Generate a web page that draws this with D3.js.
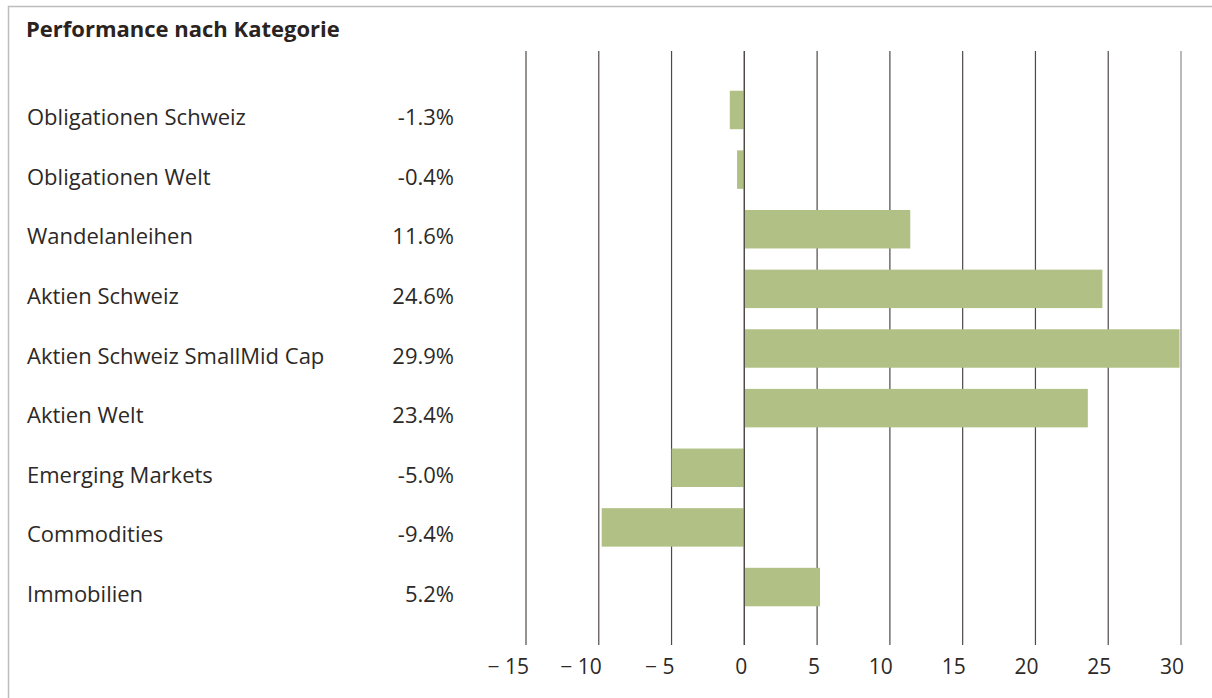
<!DOCTYPE html>
<meta charset="utf-8">
<script src="https://d3js.org/d3.v7.min.js"></script>
<style>
  body { margin: 0; background: #fff; }
  text { font-family: "Open Sans", sans-serif; fill: #2d2926; }
</style>
<div id="chart"></div>
<script>

// data (bar lengths as drawn, labels as printed)
var categories = ["Obligationen Schweiz", "Obligationen Welt", "Wandelanleihen", "Aktien Schweiz",
                  "Aktien Schweiz SmallMid Cap", "Aktien Welt", "Emerging Markets", "Commodities", "Immobilien"];
var values = [-1.0, -0.5, 11.4, 24.6, 29.9, 23.6, -5.0, -9.8, 5.2];
var valueLabels = ["-1.3%", "-0.4%", "11.6%", "24.6%", "29.9%", "23.4%", "-5.0%", "-9.4%", "5.2%"];
var ticks = [-15, -10, -5, 0, 5, 10, 15, 20, 25, 30];

var width = 1212, height = 698;

var svg = d3.select("#chart")
  .append("svg")
    .attr("width", width)
    .attr("height", height);

// frame (top and left edge)
svg.append("path")
  .attr("d", "M8.5," + height + "V6.5H" + width)
  .attr("fill", "none")
  .attr("stroke", "#bdbdbd")
  .attr("stroke-width", 1.5);

// title
svg.append("text")
  .attr("x", 26)
  .attr("y", 37)
  .style("font-size", "22px")
  .style("font-weight", "bold")
  .style("fill", "#2b2320")
  .text("Performance nach Kategorie");

var x = d3.scaleLinear()
  .domain([-15, 30])
  .range([526, 1181]);

var y = d3.scaleBand()
  .domain(categories)
  .range([80, 617])
  .paddingInner(0.355)
  .paddingOuter(0.18);

// vertical grid lines
svg.append("g")
  .selectAll("line")
  .data(ticks)
  .enter().append("line")
    .attr("x1", function(d) { return x(d); })
    .attr("x2", function(d) { return x(d); })
    .attr("y1", 51)
    .attr("y2", 645)
    .attr("stroke", function(d) { return d === 30 ? "#8e8a88" : "#4f4946"; })
    .attr("stroke-width", 1.2);

// bars
svg.append("g")
  .selectAll("rect")
  .data(values)
  .enter().append("rect")
    .attr("x", function(d) { return x(Math.min(0, d)); })
    .attr("y", function(d, i) { return y(categories[i]); })
    .attr("width", function(d) { return Math.abs(x(d) - x(0)); })
    .attr("height", y.bandwidth())
    .attr("fill", "#b1c085");

// zero line on top
svg.append("line")
  .attr("x1", x(0)).attr("x2", x(0))
  .attr("y1", 51).attr("y2", 645)
  .attr("stroke", "#4f4946")
  .attr("stroke-width", 1.2);

// category labels
svg.append("g")
  .selectAll("text")
  .data(categories)
  .enter().append("text")
    .attr("x", 27)
    .attr("y", function(d) { return y(d) + y.bandwidth() / 2 + 15; })
    .style("font-size", "22px")
    .text(function(d) { return d; });

// value labels
svg.append("g")
  .selectAll("text")
  .data(valueLabels)
  .enter().append("text")
    .attr("x", 454)
    .attr("y", function(d, i) { return y(categories[i]) + y.bandwidth() / 2 + 15; })
    .attr("text-anchor", "end")
    .style("font-size", "22px")
    .text(function(d) { return d; });

// tick labels
svg.append("g")
  .selectAll("text")
  .data(ticks)
  .enter().append("text")
    .attr("x", function(d) { return x(d) + 3; })
    .attr("y", 674)
    .attr("text-anchor", "end")
    .style("font-size", "21px")
    .text(function(d) { return d < 0 ? "\u2212 " + Math.abs(d) : d; });

</script>
